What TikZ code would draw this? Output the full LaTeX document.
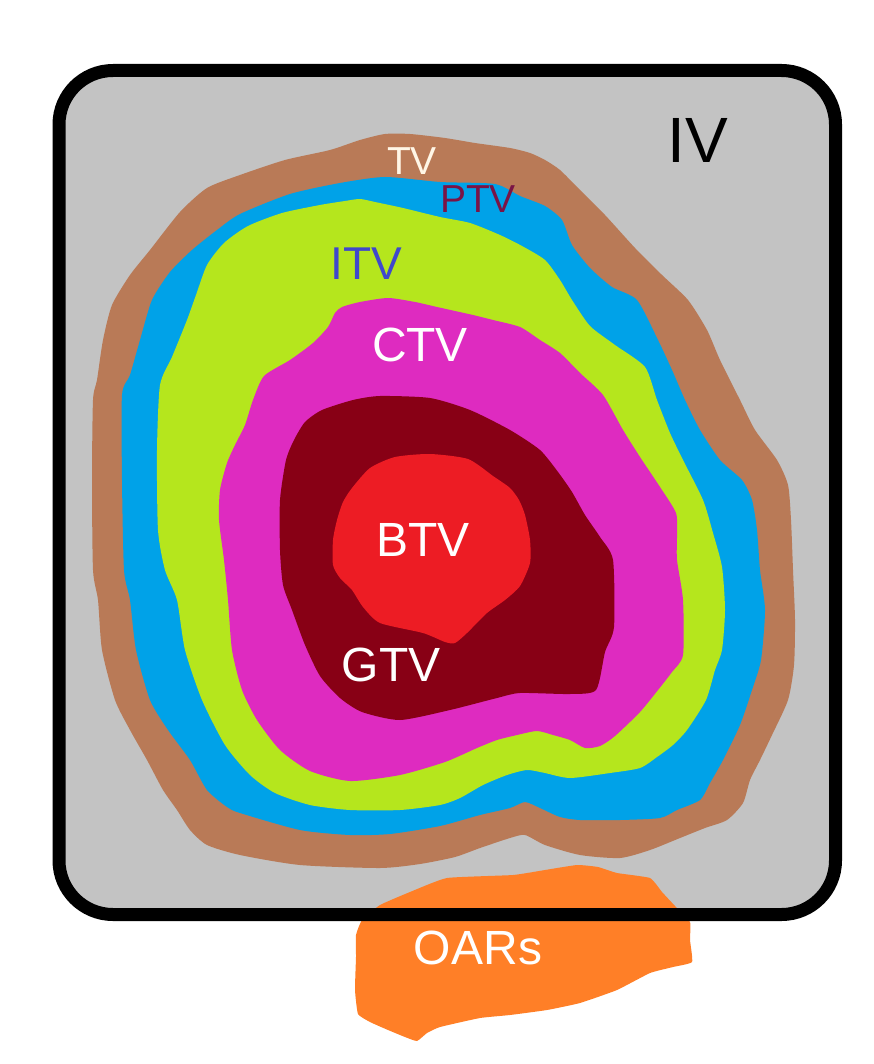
\documentclass[tikz,border=0pt]{standalone}
\usepackage{fontspec}
\setmainfont{Liberation Sans}
\definecolor{boxgray}{HTML}{C3C3C3}
\definecolor{tvbrown}{HTML}{B97A57}
\definecolor{ptvblue}{HTML}{00A2E8}
\definecolor{itvgreen}{HTML}{B5E61D}
\definecolor{ctvmag}{HTML}{DE2BC0}
\definecolor{gtvred}{HTML}{880015}
\definecolor{btvred}{HTML}{ED1C24}
\definecolor{oarorange}{HTML}{FF7F27}
\definecolor{ptvtext}{HTML}{7A1446}
\definecolor{itvtext}{HTML}{3F48CC}
\definecolor{tvtext}{HTML}{FFF6E6}
\begin{document}
\begin{tikzpicture}[x=1pt,y=-1pt,
  blob/.style={draw=none},
  lbl/.style={inner sep=0pt,anchor=center},
  sz/.style={font=\fontsize{#1}{#1}\selectfont}]
\useasboundingbox (0,0) rectangle (873,1064);
% box background
\fill[boxgray, rounded corners=54] (59,70.5) rectangle (835.5,914.5);
% TV (brown)
\fill[tvbrown] plot[smooth cycle, tension=0.4] coordinates {
 (385,134) (410,134) (445,138) (475,143) (510,148) (530,153) (545,160) (560,170)
 (580,190) (605,215) (635,248) (662,275) (688,300) (707,330) (720,360) (740,400)
 (755,430) (777,460) (788,485) (791,520) (793,570) (795,620) (794,665) (788,700)
 (772,735) (760,760) (750,780) (743,803) (727,820) (705,828) (680,838) (650,850)
 (620,858) (580,855) (545,845) (525,835) (510,838) (480,848) (455,857) (420,864)
 (380,868) (300,865) (240,855) (207,845) (190,830) (177,810) (163,790) (147,760)
 (130,730) (115,700) (102,650) (98,600) (93,570) (92,480) (93,400) (97,380)
 (103,340) (112,305) (130,275) (150,250) (180,212) (207,188) (240,175) (285,160)
 (330,150) (360,140)};
% PTV (blue)
\fill[ptvblue] plot[smooth cycle, tension=0.4] coordinates {
 (385,177) (440,182) (495,184) (520,196) (545,206) (562,220) (572,245) (590,268)
 (612,287) (637,300) (658,340) (672,370) (685,400) (700,430) (720,460) (742,480)
 (752,500) (757,530) (760,570) (765,610) (761,660) (752,690) (740,725) (723,760)
 (710,783) (700,800) (677,810) (660,818) (620,820) (580,820) (560,817) (540,808)
 (525,802) (510,808) (480,815) (440,826) (390,834) (350,835) (300,830) (240,813)
 (227,807) (207,790) (190,760) (168,730) (150,700) (136,650) (130,600) (124,570)
 (122,480) (122,395) (130,375) (140,340) (152,300) (170,272) (192,250) (217,230)
 (240,214) (290,194) (340,183)};
% ITV (green)
\fill[itvgreen] plot[smooth cycle, tension=0.4] coordinates {
 (360,199) (375,202) (403,208) (440,217) (470,223) (500,235) (522,246) (545,260)
 (560,280) (572,300) (590,326) (615,345) (645,367) (657,400) (670,433) (683,460)
 (703,500) (713,533) (722,567) (725,610) (722,650) (715,670) (706,700) (687,730)
 (673,745) (657,757) (640,768) (610,773) (570,778) (545,773) (527,770) (507,775)
 (483,785) (460,798) (440,805) (400,810) (350,810) (310,805) (275,793) (250,775)
 (225,745) (202,700) (185,650) (177,600) (165,570) (158,530) (157,450) (160,385)
 (172,357) (187,320) (196,295) (207,265) (224,243) (248,226) (282,213) (320,205)
 (345,201)};
% CTV (magenta)
\fill[ctvmag] plot[smooth cycle, tension=0.4] coordinates {
 (342,307) (360,302) (388,298) (415,302) (437,307) (473,315) (493,320) (520,327)
 (540,340) (560,353) (580,373) (603,395) (623,430) (640,457) (660,487) (676,513)
 (677,535) (677,560) (683,600) (683,655) (672,672) (658,690) (640,712) (615,736)
 (600,746) (585,748) (570,740) (553,735) (537,731) (517,735) (497,740) (477,748)
 (445,762) (400,775) (350,781) (310,771) (280,750) (257,720) (242,690) (232,650)
 (228,600) (224,560) (219,520) (220,490) (227,463) (235,445) (245,425) (253,400)
 (264,376) (290,360) (313,343) (328,327) (335,313)};
% GTV (dark red)
\fill[gtvred] plot[smooth cycle, tension=0.4] coordinates {
 (380,396) (430,398) (470,410) (510,430) (540,450) (558,472) (572,492) (585,515)
 (600,537) (613,560) (614,627) (605,652) (596,690) (570,694) (520,693) (497,698)
 (450,710) (400,720) (362,712) (340,698) (320,676) (305,645) (292,610) (283,585)
 (280,550) (280,500) (286,460) (294,440) (305,422) (322,410) (353,400)};
% BTV (red)
\fill[btvred] plot[smooth cycle, tension=0.4] coordinates {
 (395,457) (430,454) (468,459) (493,476) (510,488) (519,500) (525,515) (530,540)
 (530,563) (520,586) (505,600) (487,613) (467,633) (455,643) (445,642) (423,633)
 (380,623) (363,607) (352,590) (340,578) (333,565) (333,540) (337,520) (343,502)
 (352,488) (370,468)};
% OARs (orange)
\fill[oarorange] plot[smooth cycle, tension=0.25] coordinates {
 (380,905) (410,892) (447,878) (513,875) (545,870) (577,865) (598,867) (617,873)
 (650,878) (662,892) (675,906) (690,922) (690,940) (692,962) (673,967) (650,973)
 (617,990) (580,1003) (547,1010) (510,1015) (480,1018) (440,1027) (427,1033)
 (417,1041) (405,1037) (388,1030) (370,1022) (358,1014) (355,990) (356,957)
 (356,935) (362,920)};
% box border
\draw[black, line width=13, rounded corners=54] (59,70.5) rectangle (835.5,914.5);
% labels
\node[lbl, sz=64, text=black] (iv) at (698,140) {IV};
\node[lbl, sz=39, text=tvtext] (tv) at (412,161) {TV};
\node[lbl, sz=39, text=ptvtext] (ptv) at (478,199) {PTV};
\node[lbl, sz=46, text=itvtext] (itv) at (366,264) {ITV};
\node[lbl, sz=48, text=white] (ctv) at (420,345) {CTV};
\node[lbl, sz=48, text=white] (btv) at (423,540) {BTV};
\node[lbl, sz=48, text=white] (gtv) at (391,665) {GTV};
\node[lbl, sz=48, text=white] (oars) at (478,948) {OARs};
\end{tikzpicture}
\end{document}
